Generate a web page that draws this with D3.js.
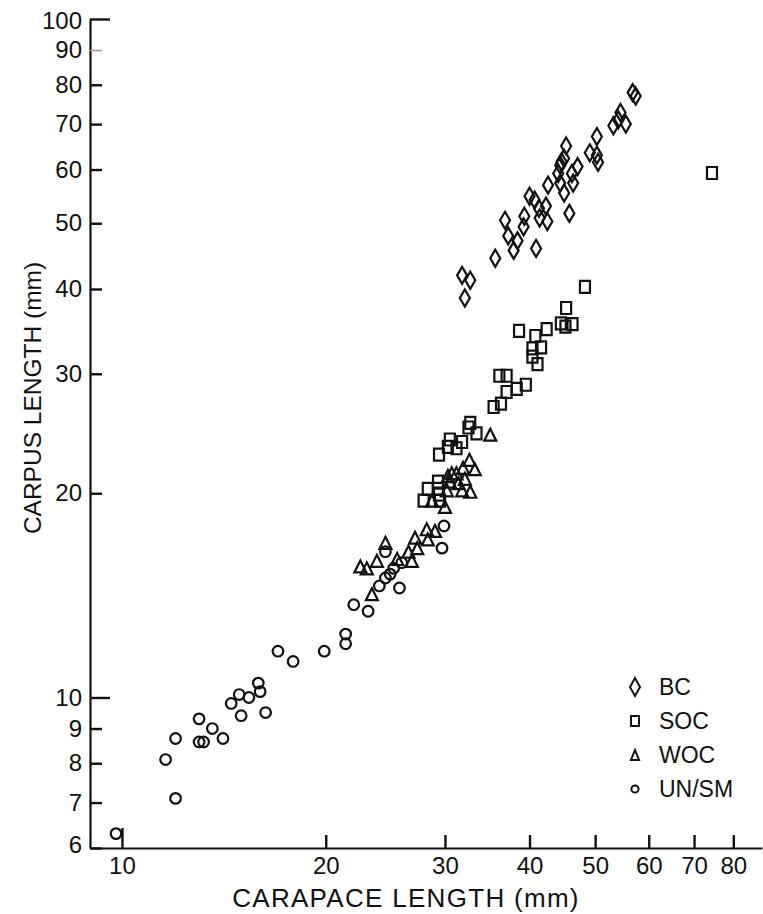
<!DOCTYPE html>
<html>
<head>
<meta charset="utf-8">
<script src="https://d3js.org/d3.v7.min.js"></script>
<style>
  body { margin: 0; background: #fff; }
  svg { display: block; }
  text { font-family: "Liberation Sans", Arial, Helvetica, sans-serif; fill: #111; }
</style>
</head>
<body>
<div id="chart"></div>
<script>
// Carapace length vs carpus length (mm), log-log
var bc = [
  [56.8, 77.9], [57.4, 77.0], [54.5, 72.8], [54.1, 71.0], [53.2, 69.6], [55.5, 70.0],
  [50.3, 67.1], [49.1, 63.5], [50.3, 63.0], [50.5, 61.5], [45.3, 65.0], [45.0, 62.3],
  [44.6, 61.6], [44.4, 60.9], [47.1, 60.6], [46.2, 59.2], [44.1, 59.2], [44.4, 57.3],
  [46.4, 57.3], [45.0, 55.4], [42.6, 56.9], [40.0, 54.8], [40.7, 54.1], [41.3, 52.6],
  [42.3, 53.0], [41.4, 50.9], [42.5, 50.3], [45.8, 51.7], [39.3, 51.2], [39.2, 49.4],
  [36.8, 50.5], [37.2, 47.9], [38.4, 47.1], [37.9, 45.6], [40.9, 45.9], [35.6, 44.4],
  [31.8, 41.9], [32.7, 41.2], [32.1, 38.8]
];

var soc = [
  [74.4, 59.3], [48.3, 40.3], [45.3, 37.5], [44.5, 35.6], [45.2, 35.2], [46.3, 35.5],
  [42.4, 34.9], [38.6, 34.7], [40.8, 34.1], [40.4, 32.7], [41.6, 32.8], [40.4, 31.8],
  [41.1, 31.0], [36.1, 29.8], [37.0, 29.8], [37.0, 28.2], [38.3, 28.5], [39.5, 28.9],
  [36.3, 27.1], [35.4, 26.8], [32.7, 25.4], [32.5, 25.0], [33.4, 24.5], [30.5, 24.0],
  [31.8, 23.8], [30.3, 23.4], [31.2, 23.3], [29.4, 22.8], [29.3, 20.8], [28.3, 20.3],
  [29.3, 20.3], [29.4, 19.9], [27.9, 19.5], [29.5, 19.5]
];

var woc = [
  [35.0, 24.4], [32.6, 22.4], [31.9, 21.8], [33.2, 21.7], [30.7, 21.4], [31.2, 21.4],
  [30.3, 21.2], [32.1, 21.0], [30.5, 20.8], [31.4, 20.7], [30.2, 20.2], [31.8, 20.2],
  [32.7, 20.1], [28.7, 19.5], [30.0, 19.1], [28.2, 17.7], [29.0, 17.6], [27.1, 17.2],
  [28.3, 17.1], [27.3, 16.6], [26.5, 16.4], [26.8, 15.9], [25.5, 16.0], [24.5, 16.9],
  [23.8, 15.9], [22.5, 15.6], [23.0, 15.5], [23.4, 14.2]
];

var unsm = [
  [9.8, 6.3], [12.0, 7.1], [11.6, 8.1], [12.0, 8.7], [13.0, 8.6], [13.2, 8.6],
  [14.1, 8.7], [13.6, 9.0], [13.0, 9.3], [15.0, 9.4], [14.5, 9.8], [14.9, 10.1],
  [15.4, 10.0], [16.3, 9.5], [15.9, 10.5], [16.0, 10.2], [17.0, 11.7], [17.9, 11.3],
  [19.9, 11.7], [21.4, 12.4], [21.4, 12.0], [22.0, 13.7], [23.1, 13.4], [24.0, 14.6],
  [25.7, 14.5], [24.5, 15.0], [24.9, 15.2], [25.2, 15.5], [25.9, 15.8], [24.5, 16.4],
  [29.7, 16.6], [29.9, 17.9]
];

var xTicks = [10, 20, 30, 40, 50, 60, 70, 80];
var yTicks = [6, 7, 8, 9, 10, 20, 30, 40, 50, 60, 70, 80, 90, 100];
var legendNames = ["BC", "SOC", "WOC", "UN/SM"];

var width = 763;
var height = 914;

var svg = d3.select("#chart")
  .append("svg")
  .attr("width", width)
  .attr("height", height);

// log scales, axis corner at (90, 848)
var xScale = d3.scaleLog().domain([8.97, 88.2]).range([90, 762]);
var yScale = d3.scaleLog().domain([6, 100]).range([848, 19]);

// marker shapes, outline only
function diamond(w, h) {
  return "M0," + (-h / 2) + "L" + (w / 2) + ",0L0," + (h / 2) + "L" + (-w / 2) + ",0Z";
}
function square(w, h) {
  return "M" + (-w / 2) + "," + (-h / 2) + "h" + w + "v" + h + "h" + (-w) + "Z";
}
function triangle(w, h) {
  return "M0," + (-h / 2) + "L" + (w / 2) + "," + (h / 2) + "L" + (-w / 2) + "," + (h / 2) + "Z";
}
function circle(r) {
  return "M" + r + ",0A" + r + "," + r + " 0 1,1 " + (-r) + ",0A" + r + "," + r + " 0 1,1 " + r + ",0Z";
}

var series = [
  { data: bc, shape: diamond(10, 17), legend: diamond(10, 18) },
  { data: soc, shape: square(10, 12), legend: square(8, 10) },
  { data: woc, shape: triangle(12, 12), legend: triangle(8, 10) },
  { data: unsm, shape: circle(5.3), legend: circle(3.6) }
];

// x axis
var xAxis = d3.axisBottom(xScale)
  .tickValues(xTicks)
  .tickFormat(d3.format("d"))
  .tickSize(-13)
  .tickSizeOuter(0)
  .tickPadding(9);

var gx = svg.append("g")
  .attr("class", "xAxis")
  .attr("transform", "translate(0," + yScale(6) + ")")
  .call(xAxis);

// y axis
var yAxis = d3.axisLeft(yScale)
  .tickValues(yTicks)
  .tickFormat(d3.format("d"))
  .tickSize(-12)
  .tickSizeOuter(0)
  .tickPadding(8);

var gy = svg.append("g")
  .attr("class", "yAxis")
  .attr("transform", "translate(" + xScale(8.97) + ",0)")
  .call(yAxis);

svg.selectAll(".domain").attr("stroke", "#111").attr("stroke-width", 2.2);
svg.selectAll(".tick line").attr("stroke", "#111").attr("stroke-width", 2.4);
svg.selectAll(".tick text")
  .style("font-size", "24px")
  .attr("fill", "#111");

// decade ticks are longer
gx.selectAll(".tick").filter(function(d) { return d === 10; })
  .select("line").attr("y2", -20);
gy.selectAll(".tick").filter(function(d) { return d === 10 || d === 100; })
  .select("line").attr("x2", 20);
// the 90 tick is faint in the original
gy.selectAll(".tick").filter(function(d) { return d === 90; })
  .select("line").attr("stroke", "#999").attr("stroke-width", 1.5);
gy.selectAll(".tick").filter(function(d) { return d === 6; })
  .select("text").attr("dy", "0.2em");
gy.selectAll(".tick").filter(function(d) { return d === 100; })
  .select("text").attr("dy", "0.4em");

// axis titles
svg.append("text")
  .attr("x", 406)
  .attr("y", 907)
  .attr("text-anchor", "middle")
  .style("font-size", "26px")
  .style("letter-spacing", "1.3px")
  .text("CARAPACE LENGTH (mm)");

svg.append("text")
  .attr("transform", "translate(41,398)rotate(-90)")
  .attr("text-anchor", "middle")
  .style("font-size", "24.5px")
  .text("CARPUS LENGTH (mm)");

// points
series.forEach(function(s) {
  svg.append("g")
    .selectAll("path")
    .data(s.data)
    .enter()
    .append("path")
    .attr("d", s.shape)
    .attr("transform", function(d) {
      return "translate(" + xScale(d[0]) + "," + yScale(d[1]) + ")";
    })
    .attr("fill", "none")
    .attr("stroke", "#111")
    .attr("stroke-width", 2.2);
});

// legend
var legend = svg.append("g").attr("transform", "translate(635,687)");
legendNames.forEach(function(name, i) {
  var row = legend.append("g").attr("transform", "translate(0," + (i * 34) + ")");
  row.append("path")
    .attr("d", series[i].legend)
    .attr("fill", "none")
    .attr("stroke", "#111")
    .attr("stroke-width", 2);
  row.append("text")
    .attr("x", 24)
    .attr("y", 8)
    .style("font-size", "23px")
    .text(name);
});
</script>
</body>
</html>
